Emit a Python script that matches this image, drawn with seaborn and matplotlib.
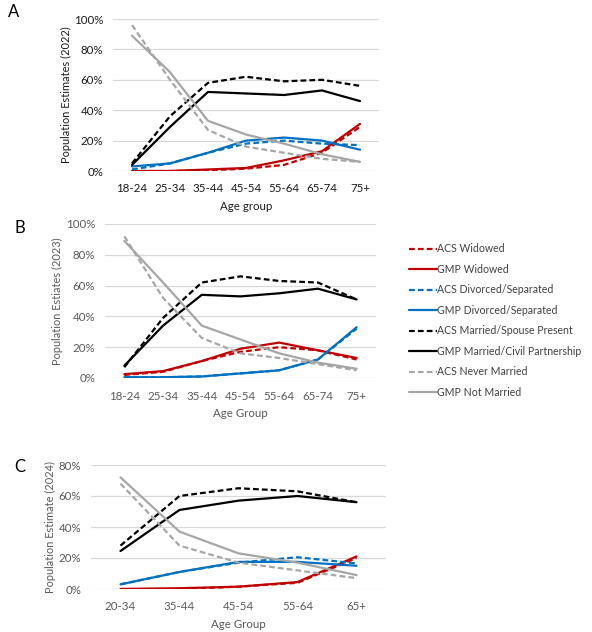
import matplotlib
matplotlib.use("Agg")
import matplotlib.pyplot as plt
import seaborn as sns
import pandas as pd
from matplotlib.lines import Line2D
from matplotlib.ticker import PercentFormatter

sns.set_theme(style="white")
plt.rcParams['font.family'] = ['Lato', 'DejaVu Sans']

# ---------------- data ----------------
ages_a = ["18-24", "25-34", "35-44", "45-54", "55-64", "65-74", "75+"]
ages_b = ["18-24", "25-34", "35-44", "45-54", "55-64", "65-74", "75+"]
ages_c = ["20-34", "35-44", "45-54", "55-64", "65+"]

series_names = ["ACS Widowed", "GMP Widowed", "ACS Divorced/Separated", "GMP Divorced/Separated",
                "ACS Married/Spouse Present", "GMP Married/Civil Partnership",
                "ACS Never Married", "GMP Not Married"]

# 2022
a_acs_wid = [0, 0, 0.5, 1.5, 4, 12, 29]
a_gmp_wid = [0, 0, 1, 2, 7, 13, 31]
a_acs_div = [1, 5, 12, 18, 20, 18, 17]
a_gmp_div = [3, 5, 12, 20, 22, 20, 14]
a_acs_mar = [5, 36, 58, 62, 59, 60, 56]
a_gmp_mar = [4, 29, 52, 51, 50, 53, 46]
a_acs_nev = [96, 60, 27, 16, 12, 8, 6]
a_gmp_not = [89, 65, 33, 24, 18, 11, 6]

# 2023
b_acs_wid = [2, 4, 11, 17, 20, 18, 12]
b_gmp_wid = [2.5, 4.5, 11, 19, 23, 18, 13]
b_acs_div = [0.5, 0.5, 1, 3, 5, 12, 32]
b_gmp_div = [0.5, 0.5, 1, 3, 5, 12, 33]
b_acs_mar = [7, 39, 62, 66, 63, 62, 51]
b_gmp_mar = [8, 34, 54, 53, 55, 58, 51]
b_acs_nev = [92, 52, 26, 16, 13, 9, 5]
b_gmp_not = [89, 62, 34, 25, 16, 10, 6]

# 2024
c_acs_wid = [0, 0, 1.5, 4, 20]
c_gmp_wid = [0, 0.5, 1.5, 4.5, 21]
c_acs_div = [3, 11, 17, 20.5, 16.5]
c_gmp_div = [3, 11, 17.5, 17.5, 15]
c_acs_mar = [28, 60, 65, 63, 56]
c_gmp_mar = [24.5, 51, 57, 60, 56]
c_acs_nev = [68, 28, 17, 12, 7]
c_gmp_not = [72, 37, 23, 17, 9]

RED, BLUE, BLACK, GRAY = "#C00000", "#0070C0", "#000000", "#A6A6A6"
styles = [(RED, True), (RED, False), (BLUE, True), (BLUE, False),
          (BLACK, True), (BLACK, False), (GRAY, True), (GRAY, False)]
DASH = (2.6, 1.4)
FS = 8.3
LFS = 7.6

fig = plt.figure(figsize=(5.92, 6.32), dpi=100)

panels = [
    dict(ages=ages_a, data=[a_acs_wid, a_gmp_wid, a_acs_div, a_gmp_div, a_acs_mar, a_gmp_mar, a_acs_nev, a_gmp_not],
         rect=[113/592, 1-171/632, 266/592, 152/632], ymax=100, ylabel="Population Estimates (2022)",
         xlabel="Age group", tc="#1a1a1a", label="A", lab_xy=(8/592, 1-12/632), ylx=66),
    dict(ages=ages_b, data=[b_acs_wid, b_gmp_wid, b_acs_div, b_gmp_div, b_acs_mar, b_gmp_mar, b_acs_nev, b_gmp_not],
         rect=[105/592, 1-378/632, 271/592, 154/632], ymax=100, ylabel="Population Estiates (2023)",
         xlabel="Age Group", tc="#595959", label="B", lab_xy=(14/592, 1-228/632), ylx=57),
    dict(ages=ages_c, data=[c_acs_wid, c_gmp_wid, c_acs_div, c_gmp_div, c_acs_mar, c_gmp_mar, c_acs_nev, c_gmp_not],
         rect=[91/592, 1-589/632, 295/592, 124/632], ymax=80, ylabel="Population Estimate (2024)",
         xlabel="Age Group", tc="#595959", label="C", lab_xy=(14/592, 1-467/632), ylx=50),
]

for p in panels:
    ax = fig.add_axes(p["rect"])
    rows = []
    for name, vals in zip(series_names, p["data"]):
        for age, v in zip(p["ages"], vals):
            rows.append(dict(age=age, value=v, series=name))
    df = pd.DataFrame(rows)
    for name, (col, dashed) in zip(series_names, styles):
        sub = df[df.series == name]
        if dashed:
            sns.lineplot(data=sub, x="age", y="value", ax=ax, color=col, lw=1.6,
                         dashes=False, linestyle=(0, DASH), sort=False)
        else:
            sns.lineplot(data=sub, x="age", y="value", ax=ax, color=col, lw=1.6, sort=False)
    n = len(p["ages"])
    ax.set_xlim(-0.5, n - 0.5)
    ax.set_ylim(0, p["ymax"])
    ax.set_yticks(range(0, p["ymax"] + 1, 20))
    ax.yaxis.set_major_formatter(PercentFormatter(decimals=0))
    ax.grid(axis="y", color="#D9D9D9", lw=0.9)
    ax.set_axisbelow(True)
    for s in ax.spines.values():
        s.set_visible(False)
    ax.tick_params(axis="both", length=0, labelsize=FS, labelcolor=p["tc"])
    ax.tick_params(axis="x", pad=9)
    ax.tick_params(axis="y", pad=7)
    ax.set_xlabel(p["xlabel"], fontsize=FS, color=p["tc"], labelpad=5)
    ax.set_ylabel("")
    r = p["rect"]
    fig.text(p["ylx"]/592, r[1] + r[3]/2, p["ylabel"], rotation=90, ha="center", va="center",
             fontsize=7.9, color=p["tc"])
    fig.text(p["lab_xy"][0], p["lab_xy"][1], p["label"], fontsize=12, color="black", ha="left", va="center")

handles = [Line2D([], [], color=c, lw=1.6, linestyle=((0, DASH) if d else "-")) for c, d in styles]
fig.legend(handles, series_names, loc="upper left", bbox_to_anchor=(405/592, 1-239/632),
           frameon=False, fontsize=LFS, handlelength=2.6, handletextpad=0.05,
           labelspacing=0.9, labelcolor="#404040", borderaxespad=0)

fig.savefig("out.png", dpi=100)
